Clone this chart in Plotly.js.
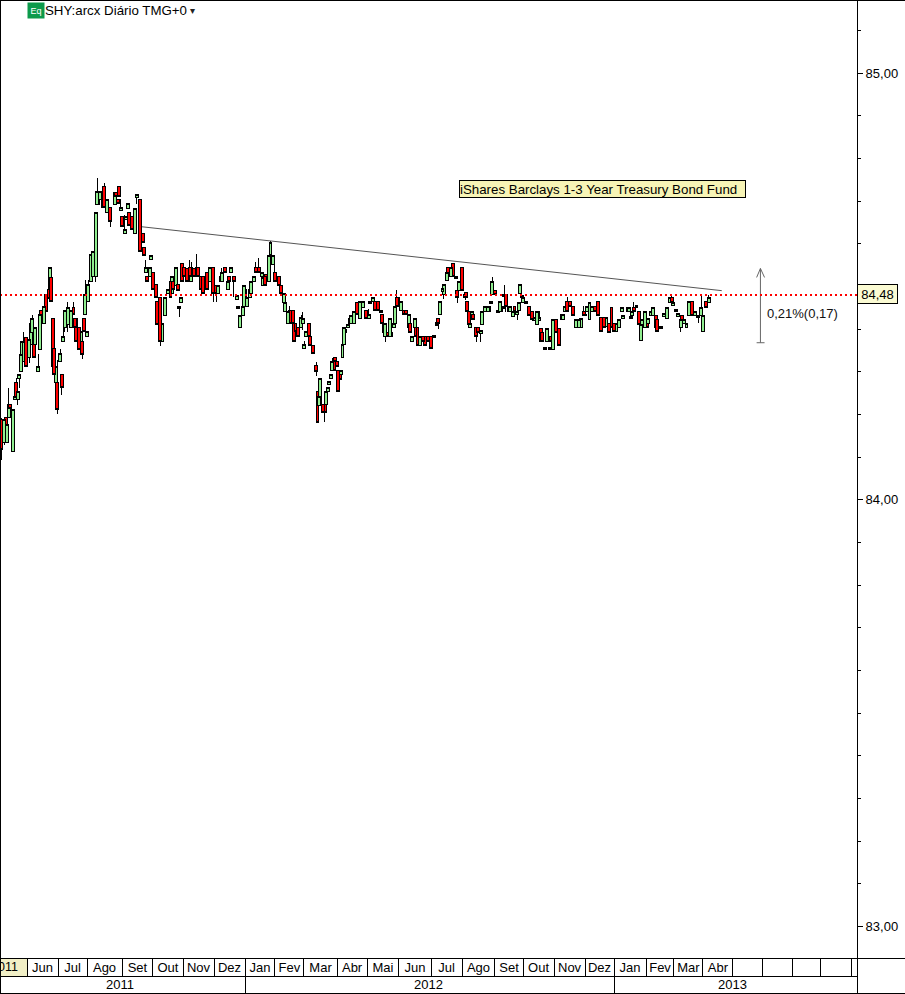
<!DOCTYPE html>
<html><head><meta charset="utf-8">
<script src="https://cdn.plot.ly/plotly-3.0.1.min.js"></script>
<style>html,body{margin:0;padding:0;background:#fff}#c{width:905px;height:994px}
.boxes path,.shapelayer path{shape-rendering:crispEdges !important}</style>
</head><body><div id="c"></div><script>
const priceBase = 84;
const bars = [1,3,4,5,6,7,9,10,11,12,13,14,15,16,18,20,21,22,23,24,26,27,28,30,31,33,34,35,36,37,38,39,41,42,43,44,46,48,50,51,52,54,55,56,57,58,59,60,62,63,65,66,67,68,70,71,73,75,78,79,80,81,82,83,85,86,87,88,90,92,93,95,97,98,99,100,102,103,104,106,107,109,110,112,114,116,117,118,120,121,122,123,124,125,127,129,130,132,134,135,137,138,139,141,143,145,147,148,150,151,153,155,156,157,159,161,162,163,165,166,167,168,170,171,173,174,176,178,179,180,181,183,184,186,187,190,191,193,194,196,197,199,200,201,202,203,205,206,207,208,210,211,213,215,216,217,218,220,221,222,223,224,225,226,227,228,229,230,231,232,233,234,235,237,238,239,241,243,245,247,249,251,252,254,255,257,259,260,261,262,264,265,266,268,269,270,271,273,275,276,278,279,280,282,283,284,286,288,289,291,293,295,297,298,299,301,302,304,305,307,308,310,311,312,314,316,317,318,319,320,321,322,324,325,327,328,330,332,333,334,335,337,339,340,341,342,343,344,346,347,349,350,352,353,354,355,356,358,360,362,363,365,366,367,368,369,371,372,373,374,375,376,378,380,382,383,384,386,388,390,392,394,395,397,398,399,401,403,405,407,409,411,412,414,416,418,419,421,423,424,427,428,429,430,431,433,435,436,437,439,440,441,443,444,446,447,449,450,452,454,456,457,458,460,461,463,464,465,467,469,470,471,473,475,477,478,480,482];
const opens = [.188,.134,.192,.134,.192,.223,.113,.235,.274,.235,
.284,.300,.324,.324,.380,.333,.363,.392,.394,.363,
.300,.352,.443,.413,.481,.492,.492,.521,.424,.354,
.274,.274,.324,.293,.370,.403,.410,.403,.450,.424,
.424,.403,.363,.370,.424,.434,.382,.464,.511,.523,
.523,.692,.722,.704,.711,.734,.673,.685,.692,.720,
.704,.734,.678,.664,.624,.657,.682,.673,.664,.624,
.708,.704,.624,.591,.532,.523,.523,.563,.532,.504,
.464,.474,.370,.431,.483,.511,.483,.511,.502,.504,
.448,.462,.553,.544,.542,.544,.511,.542,.544,.544,
.523,.523,.492,.532,.511,.544,.502,.483,.523,.511,
.544,.492,.523,.532,.523,.469,.448,.403,.431,.453,
.492,.453,.474,.483,.511,.544,.544,.523,.502,.523,
.528,.511,.575,.551,.532,.523,.502,.462,.441,.413,
.443,.443,.413,.413,.394,.403,.403,.413,.354,.382,
.413,.382,.361,.314,.253,.220,.223,.223,.223,.223,
.253,.270,.284,.302,.324,.333,.324,.302,.302,.293,
.333,.363,.392,.403,.424,.413,.413,.462,.424,.450,
.443,.424,.460,.464,.464,.464,.439,.434,.413,.382,
.392,.382,.392,.403,.413,.474,.464,.443,.443,.443,
.403,.413,.370,.403,.403,.403,.361,.382,.382,.382,
.382,.380,.415,.424,.434,.488,.481,.514,.544,.523,
.553,.518,.490,.490,.544,.481,.485,.464,.441,.403,
.434,.434,.403,.403,.389,.410,.441,.441,.441,.460,
.481,.490,.439,.441,.453,.448,.476,.481,.441,.441,
.429,.453,.434,.443,.483,.474,.462,.460,.453,.441,
.420,.410,.441,.420,.401,.392,.352,.370,.382,.352,
.382,.352,.422,.401,.422,.422,.441,.464,.464,.453,
.403,.403,.403,.441,.434,.441,.422,.441,.453,.464,
.427,.427,.406,.413,.450,.413,.394,.403,.441,.424,
.450,.441,.424,.431,.450,.450,.441,.373,.403,.403,
.422,.413,.431,.431,.431,.422,.401,.401,.429,.424,
.462,.474,.455,.441,.429,.403,.431,.413,.403,.431,
.431,.464,.431,.427,.431,.394,.464,.462];
const highs = [.192,.192,.192,.192,.263,.223,.211,.242,.286,.253,
.293,.340,.370,.394,.380,.375,.413,.434,.394,.403,
.342,.434,.443,.453,.481,.492,.544,.521,.424,.363,
.312,.328,.354,.293,.441,.443,.464,.443,.464,.424,
.424,.403,.394,.370,.424,.514,.394,.514,.575,.582,
.673,.753,.722,.722,.711,.743,.704,.685,.720,.720,
.704,.734,.704,.664,.668,.664,.694,.673,.664,.682,
.715,.704,.624,.591,.563,.523,.544,.572,.532,.504,
.464,.474,.413,.474,.492,.511,.523,.511,.544,.504,
.453,.474,.553,.544,.542,.563,.558,.542,.575,.544,
.523,.523,.523,.532,.544,.544,.502,.502,.523,.544,
.544,.511,.523,.544,.523,.478,.453,.431,.453,.502,
.492,.474,.492,.511,.523,.558,.567,.532,.521,.523,
.528,.572,.607,.572,.551,.523,.502,.483,.462,.441,
.453,.443,.413,.413,.403,.403,.434,.441,.373,.394,
.413,.382,.361,.324,.253,.242,.284,.223,.223,.253,
.263,.277,.293,.333,.324,.333,.324,.302,.302,.302,
.363,.403,.399,.410,.424,.431,.441,.462,.464,.464,
.443,.446,.464,.474,.464,.464,.443,.434,.413,.413,
.392,.424,.392,.413,.453,.492,.474,.464,.443,.443,
.434,.413,.382,.424,.403,.403,.382,.382,.382,.382,
.382,.385,.415,.424,.464,.495,.504,.532,.544,.544,
.553,.523,.490,.511,.544,.481,.485,.464,.441,.413,
.441,.434,.403,.403,.396,.441,.453,.453,.453,.464,
.523,.490,.443,.464,.453,.453,.504,.481,.453,.453,
.441,.453,.441,.462,.504,.478,.474,.464,.453,.441,
.427,.441,.441,.427,.401,.392,.356,.401,.382,.356,
.382,.422,.422,.401,.434,.434,.453,.474,.464,.453,
.422,.422,.424,.453,.434,.453,.462,.453,.453,.464,
.427,.427,.427,.413,.450,.413,.413,.422,.450,.431,
.450,.450,.429,.441,.464,.455,.441,.410,.422,.441,
.422,.424,.441,.450,.431,.422,.406,.406,.436,.450,
.474,.478,.462,.446,.436,.422,.431,.422,.413,.464,
.464,.464,.441,.431,.481,.431,.464,.481];
const lows = [.094,.129,.150,.134,.192,.213,.113,.235,.235,.223,
.263,.300,.324,.324,.312,.321,.363,.392,.333,.363,
.300,.352,.422,.413,.441,.471,.492,.464,.300,.281,
.274,.202,.324,.246,.370,.394,.392,.403,.434,.403,
.370,.352,.363,.331,.394,.434,.382,.464,.511,.523,
.511,.692,.692,.704,.685,.685,.673,.640,.692,.711,
.694,.711,.678,.640,.624,.657,.682,.643,.633,.624,
.692,.582,.603,.572,.532,.511,.523,.563,.492,.474,
.410,.361,.370,.431,.483,.474,.483,.492,.502,.490,
.429,.462,.511,.523,.511,.523,.511,.523,.523,.523,
.492,.483,.492,.492,.511,.464,.464,.483,.511,.511,
.532,.492,.511,.532,.474,.469,.448,.403,.431,.453,
.453,.453,.474,.483,.511,.532,.532,.523,.502,.502,
.511,.511,.575,.551,.511,.502,.483,.462,.441,.413,
.413,.413,.370,.394,.394,.382,.403,.399,.354,.382,
.382,.361,.342,.291,.181,.220,.223,.204,.183,.223,
.253,.270,.284,.302,.302,.324,.312,.253,.281,.293,
.333,.363,.392,.403,.413,.413,.413,.434,.424,.450,
.424,.424,.460,.464,.443,.443,.439,.413,.392,.370,
.382,.382,.382,.403,.413,.453,.464,.443,.434,.434,
.403,.392,.370,.403,.382,.361,.361,.370,.361,.370,
.354,.380,.408,.401,.434,.488,.471,.514,.523,.523,
.523,.518,.462,.490,.490,.474,.469,.441,.410,.403,
.434,.422,.370,.392,.370,.410,.441,.441,.441,.460,
.481,.481,.439,.441,.441,.448,.476,.441,.441,.441,
.429,.441,.422,.443,.483,.474,.462,.460,.431,.422,
.420,.410,.420,.420,.370,.370,.352,.370,.370,.352,
.370,.352,.392,.361,.422,.422,.441,.441,.453,.431,
.403,.403,.403,.431,.431,.441,.422,.441,.441,.431,
.394,.403,.406,.392,.403,.394,.394,.403,.441,.424,
.441,.441,.424,.431,.441,.450,.410,.373,.403,.403,
.403,.413,.431,.431,.403,.394,.401,.401,.429,.424,
.462,.462,.455,.441,.429,.392,.413,.413,.403,.431,
.431,.431,.431,.415,.431,.394,.450,.462];
const closes = [.117,.188,.152,.176,.223,.213,.211,.242,.235,.253,
.293,.340,.370,.370,.312,.375,.413,.424,.333,.403,
.312,.434,.422,.453,.441,.471,.544,.464,.312,.293,
.312,.211,.342,.263,.382,.443,.450,.443,.434,.403,
.370,.352,.394,.340,.394,.481,.394,.504,.575,.582,
.673,.722,.692,.722,.685,.685,.704,.652,.720,.711,
.694,.711,.685,.640,.633,.664,.694,.643,.633,.682,
.715,.582,.603,.572,.544,.511,.544,.572,.492,.474,
.410,.370,.413,.474,.492,.474,.523,.492,.544,.490,
.453,.474,.511,.523,.511,.523,.544,.523,.523,.523,
.492,.483,.523,.492,.544,.483,.483,.502,.511,.532,
.532,.511,.511,.544,.511,.478,.453,.431,.453,.502,
.453,.474,.492,.511,.523,.532,.532,.532,.521,.502,
.511,.572,.603,.572,.511,.502,.483,.483,.462,.441,
.413,.413,.370,.394,.403,.382,.427,.424,.363,.394,
.382,.361,.342,.300,.181,.242,.284,.204,.204,.253,
.263,.277,.293,.324,.302,.324,.312,.253,.281,.302,
.363,.403,.399,.410,.413,.431,.441,.434,.464,.464,
.424,.434,.464,.474,.443,.443,.443,.413,.392,.413,
.382,.424,.382,.413,.453,.453,.474,.464,.434,.434,
.434,.392,.382,.424,.382,.361,.382,.370,.361,.370,
.354,.385,.408,.413,.464,.495,.504,.532,.523,.544,
.523,.523,.474,.511,.490,.474,.474,.441,.410,.413,
.441,.422,.382,.392,.396,.441,.453,.453,.453,.464,
.511,.481,.443,.464,.441,.453,.481,.453,.453,.453,
.441,.441,.441,.462,.504,.478,.474,.464,.431,.422,
.427,.441,.420,.427,.370,.370,.356,.401,.370,.356,
.370,.422,.392,.361,.434,.434,.453,.441,.453,.431,
.422,.422,.424,.431,.431,.453,.462,.453,.441,.431,
.394,.403,.427,.392,.403,.394,.413,.422,.450,.431,
.441,.450,.429,.441,.441,.455,.410,.410,.422,.441,
.403,.424,.441,.450,.403,.394,.406,.406,.436,.450,
.474,.462,.462,.446,.436,.422,.413,.422,.413,.464,
.464,.431,.441,.431,.450,.431,.450,.474];
if (![opens,highs,lows,closes].every(a => a.length === bars.length)) throw new Error('length mismatch');

const monthLabels = ['Jun','Jul','Ago','Set','Out','Nov','Dez','Jan','Fev','Mar','Abr','Mai','Jun','Jul','Ago','Set','Out','Nov','Dez','Jan','Fev','Mar','Abr'];
const monthEdges = [18.4,39.5,59.2,83,104,124.5,145.6,166.7,187,206.8,229.3,249.7,271.4,293.2,314.3,336.7,355.8,376.9,398,417.7,439.5,458.5,478.2,498.6];
const emptyEdges = [518.4,538.8,558.5,579];
const yearLabels = ['2011','2012','2013'];
const yearCentres = [81.6,291.5,498.6];
const yearEdges = [166.7,417.7];
const lastPrice = 84.48;
const trendBars = [95.9,491];
const trendPrices = [84.640,84.490];
const measureBar = 517.3;
const measureLow = 84.368, measureHigh = 84.542;

const pxPerBar = 1.47, plotW = 857, plotH = 958, xMax = plotW / pxPerBar;
const frac = b => b / xMax;
const belowY = px => -(px / plotH);

function candle(idx, xaxis) {
  const pick = a => idx.map(i => a[i]);
  const price = a => pick(a).map(v => priceBase + v);
  return {
    type: 'candlestick', xaxis, yaxis: 'y', x: pick(bars),
    open: price(opens), high: price(highs), low: price(lows), close: price(closes),
    whiskerwidth: 0, hoverinfo: 'skip', showlegend: false,
    increasing: {line: {color: '#000', width: 1}, fillcolor: '#90ee90'},
    decreasing: {line: {color: '#000', width: 1}, fillcolor: '#ff0000'}
  };
}
const evenIdx = bars.map((_, i) => i).filter(i => i % 2 === 0);
const oddIdx = bars.map((_, i) => i).filter(i => i % 2 === 1);

const data = [
  candle(evenIdx, 'x'),
  candle(oddIdx, 'x2'),
  {type: 'scatter', mode: 'lines', x: trendBars, y: trendPrices, line: {color: '#555', width: 1}, hoverinfo: 'skip', showlegend: false},
  {type: 'scatter', mode: 'lines', hoverinfo: 'skip', showlegend: false, line: {color: '#666', width: 1},
   x: [measureBar, measureBar, null, measureBar - 2.6, measureBar, measureBar + 2.8, null, measureBar - 2.6, measureBar + 2.8],
   y: [measureLow, measureHigh, null, measureHigh - 0.021, measureHigh, measureHigh - 0.021, null, measureLow, measureLow]}
];

const black = {color: '#000', width: 1};
const ln = (x0, y0, x1, y1) => ({type: 'line', xref: 'paper', yref: 'paper', x0, y0, x1, y1, line: black});
const rightEdge = 905 / plotW;
const shapes = [
  {type: 'rect', xref: 'paper', yref: 'paper', x0: 0, x1: frac(monthEdges[0]), y0: belowY(0), y1: belowY(18), fillcolor: '#f1efc6', line: {width: 0}, layer: 'below'},
  {type: 'line', xref: 'paper', yref: 'y', x0: 0, x1: 1, y0: lastPrice, y1: lastPrice, line: {color: '#ff0000', width: 2, dash: '2px,3px'}},
  ln(0, belowY(0), rightEdge, belowY(0)),
  ln(0, belowY(18), 1, belowY(18)),
  ln(0, belowY(35), rightEdge, belowY(35)),
  ln(1, 1, 1, belowY(35)),
  ln(0, 1 - 0.5 / plotH, rightEdge, 1 - 0.5 / plotH), ln(0.5 / plotW, 1, 0.5 / plotW, belowY(35))
];
monthEdges.concat(emptyEdges).forEach(e => shapes.push(ln(frac(e), belowY(0), frac(e), belowY(18))));
yearEdges.forEach(e => shapes.push(ln(frac(e), belowY(18), frac(e), belowY(35))));

const fam = '"Liberation Sans", Arial, sans-serif';
const ann = (o) => Object.assign({showarrow: false, xanchor: 'center', yanchor: 'middle', font: {family: fam, size: 12, color: '#000'}}, o);
const annotations = [
  ann({xref: 'paper', yref: 'paper', x: 26.5 / plotW, y: 1 - 10.5 / plotH, xanchor: 'left', text: 'Eq', bgcolor: '#0c9a4b', width: 16, height: 15, borderpad: 0, font: {family: fam, size: 9, color: '#fff'}}),
  ann({xref: 'paper', yref: 'paper', x: 43 / plotW, y: 1 - 10.5 / plotH, xanchor: 'left', text: 'SHY:arcx Diário TMG+0', font: {family: fam, size: 13.3, color: '#000'}}),
  ann({xref: 'paper', yref: 'paper', x: 192.5 / plotW, y: 1 - 10 / plotH, text: '▾', font: {family: '"DejaVu Sans"', size: 10, color: '#222'}}),
  ann({xref: 'paper', yref: 'paper', x: 459 / plotW, y: 1 - 189 / plotH, xanchor: 'left', width: 285, height: 16, align: 'left', text: 'iShares Barclays 1-3 Year Treasury Bond Fund', bgcolor: '#f7f4b6', bordercolor: '#000', borderwidth: 1, borderpad: 0, font: {family: fam, size: 13.3, color: '#000'}}),
  ann({xref: 'paper', yref: 'paper', x: 857 / plotW, y: 1 - 294 / plotH, xanchor: 'left', width: 39, height: 18, text: '84,48', bgcolor: '#fbfbd3', bordercolor: '#000', borderwidth: 1, borderpad: 0, font: {family: fam, size: 13, color: '#000'}}),
  ann({xref: 'x', yref: 'y', x: measureBar + 3.2, y: (measureLow + measureHigh) / 2 - 0.019, xanchor: 'left', text: '0,21%(0,17)', font: {family: fam, size: 13, color: '#111'}})
];
yearLabels.forEach((t, i) => annotations.push(ann({xref: 'paper', yref: 'paper', x: frac(yearCentres[i]), y: belowY(26.5), text: t, font: {family: fam, size: 13, color: '#000'}})));
annotations.push(ann({xref: 'paper', yref: 'paper', x: 19.5 / plotW, y: belowY(9), xanchor: 'right', text: '011', font: {family: fam, size: 12.5, color: '#000'}}));

const monthCentres = monthLabels.map((_, i) => (monthEdges[i] + monthEdges[i + 1]) / 2);

const layout = {
  width: 905, height: 994, paper_bgcolor: '#fff', plot_bgcolor: '#fff',
  margin: {l: 0, r: 48, t: 0, b: 36, pad: 0}, separators: ',.', showlegend: false,
  boxgap: 0, boxgroupgap: 0, boxmode: 'overlay', hovermode: false,
  xaxis: {range: [0, xMax], fixedrange: true, showgrid: false, zeroline: false, rangeslider: {visible: false},
          tickmode: 'array', tickvals: monthCentres, ticktext: monthLabels, ticks: '', tickangle: 0,
          tickfont: {family: fam, size: 13, color: '#000'}, automargin: false, showline: false},
  xaxis2: {overlaying: 'x', range: [0, xMax], visible: false, fixedrange: true, rangeslider: {visible: false}},
  yaxis: {side: 'right', range: [84 - 458 / 426.5, 85 + 73 / 426.5], fixedrange: true, showgrid: false, zeroline: false,
          tickmode: 'array', tickvals: [83, 84, 85], tickformat: '.2f', ticks: 'outside', ticklen: 5, tickcolor: '#000',
          tickfont: {family: fam, size: 13, color: '#000'}, showline: false, automargin: false,
          minor: {dtick: 0.1, ticks: 'outside', ticklen: 3, tickcolor: '#000', showgrid: false}},
  shapes, annotations
};
Plotly.newPlot('c', data, layout, {displayModeBar: false, responsive: false});
</script></body></html>
